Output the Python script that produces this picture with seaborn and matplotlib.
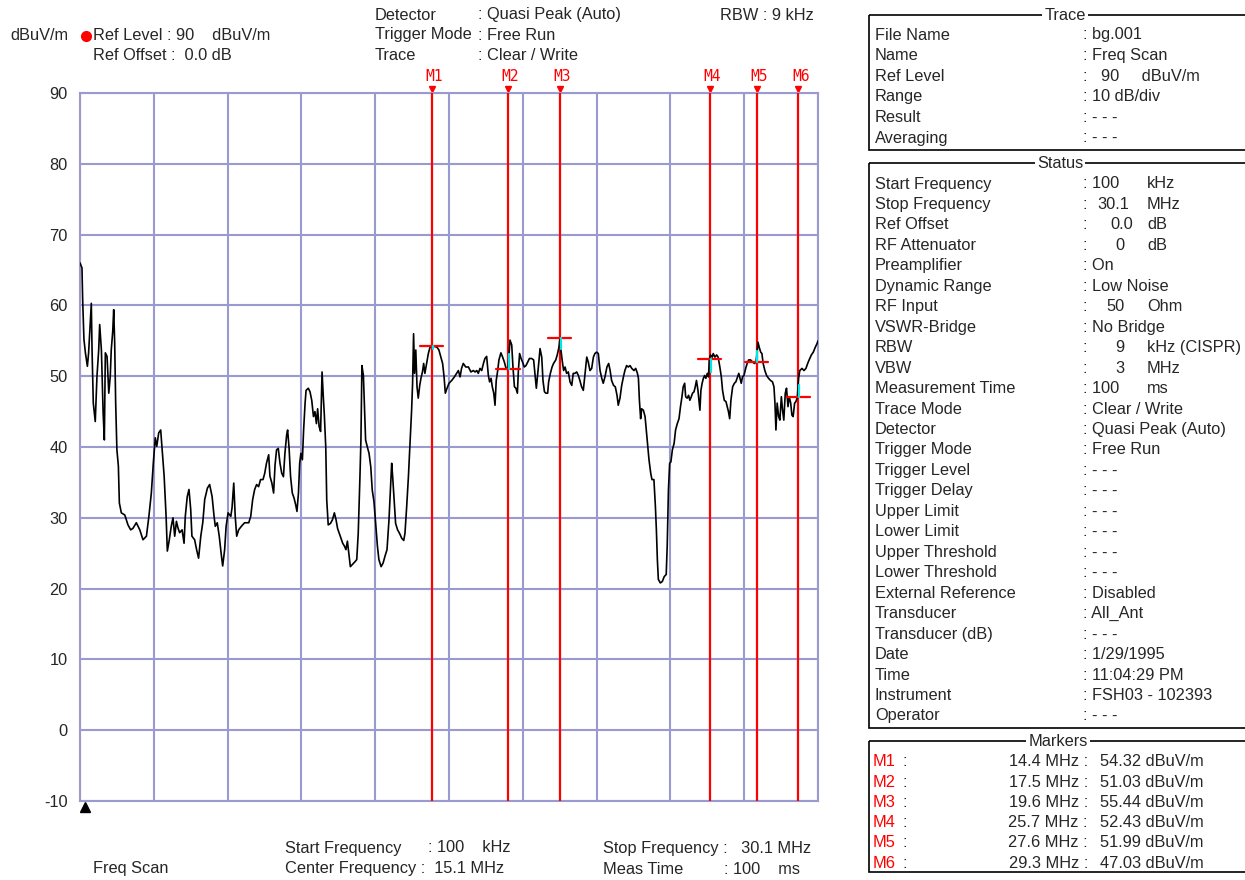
import matplotlib
matplotlib.use("Agg")
import matplotlib.pyplot as plt
from matplotlib.patches import Rectangle
import seaborn as sns
import numpy as np
import pandas as pd

# ---- data ----
trace_mhz = [
    0.10, 0.18, 0.21, 0.26, 0.32, 0.40, 0.45, 0.52, 0.56, 0.59, 0.64, 0.72, 0.79, 0.86, 0.90, 0.97,
    1.04, 1.09, 1.13, 1.20, 1.27, 1.33, 1.37, 1.43, 1.47, 1.51, 1.55, 1.60, 1.66, 1.70, 1.78, 1.92,
    2.05, 2.16, 2.25, 2.39, 2.53, 2.66, 2.80, 2.90, 3.00, 3.08, 3.16, 3.22, 3.30, 3.38, 3.43, 3.52,
    3.60, 3.65, 3.73, 3.81, 3.88, 3.95, 4.02, 4.08, 4.15, 4.25, 4.33, 4.38, 4.46, 4.53, 4.60, 4.65,
    4.76, 4.84, 4.92, 5.01, 5.09, 5.17, 5.28, 5.37, 5.47, 5.55, 5.60, 5.68, 5.76, 5.85, 5.90, 5.98,
    6.04, 6.12, 6.23, 6.28, 6.35, 6.41, 6.47, 6.55, 6.66, 6.79, 6.96, 7.04, 7.12, 7.20, 7.28, 7.36,
    7.44, 7.54, 7.61, 7.68, 7.77, 7.82, 7.90, 7.97, 8.03, 8.09, 8.16, 8.23, 8.30, 8.37, 8.43, 8.50,
    8.54, 8.60, 8.66, 8.73, 8.80, 8.87, 8.92, 8.98, 9.03, 9.08, 9.14, 9.19, 9.25, 9.29, 9.38, 9.45,
    9.52, 9.59, 9.65, 9.71, 9.76, 9.82, 9.88, 9.94, 9.99, 10.03, 10.09, 10.13, 10.19, 10.28, 10.36,
    10.44, 10.51, 10.57, 10.64, 10.71, 10.78, 10.85, 10.91, 10.97, 11.04, 11.09, 11.17, 11.28, 11.35,
    11.41, 11.48, 11.52, 11.56, 11.62, 11.66, 11.71, 11.78, 11.85, 11.92, 11.98, 12.05, 12.12, 12.19,
    12.25, 12.34, 12.42, 12.50, 12.58, 12.66, 12.72, 12.77, 12.81, 12.86, 12.93, 13.01, 13.09, 13.18,
    13.26, 13.31, 13.38, 13.45, 13.52, 13.58, 13.62, 13.66, 13.70, 13.75, 13.80, 13.85, 13.91, 13.96,
    14.02, 14.07, 14.12, 14.19, 14.26, 14.33, 14.40, 14.50, 14.61, 14.69, 14.77, 14.84, 14.90, 14.95,
    15.02, 15.10, 15.21, 15.32, 15.41, 15.48, 15.55, 15.61, 15.68, 15.78, 15.89, 15.99, 16.09, 16.16,
    16.23, 16.29, 16.36, 16.43, 16.50, 16.56, 16.63, 16.70, 16.75, 16.81, 16.86, 16.92, 16.97, 17.02,
    17.08, 17.13, 17.21, 17.28, 17.35, 17.42, 17.50, 17.54, 17.58, 17.65, 17.70, 17.76, 17.82, 17.88,
    17.92, 17.97, 18.03, 18.09, 18.16, 18.23, 18.30, 18.37, 18.46, 18.54, 18.61, 18.65, 18.70, 18.76,
    18.80, 18.87, 18.92, 18.98, 19.04, 19.11, 19.15, 19.22, 19.29, 19.35, 19.44, 19.50, 19.57, 19.61,
    19.65, 19.71, 19.76, 19.82, 19.88, 19.95, 20.02, 20.09, 20.15, 20.22, 20.29, 20.36, 20.42, 20.49,
    20.56, 20.63, 20.70, 20.76, 20.83, 20.90, 20.97, 21.03, 21.10, 21.17, 21.24, 21.31, 21.37, 21.44,
    21.52, 21.59, 21.65, 21.71, 21.79, 21.86, 21.93, 21.98, 22.05, 22.12, 22.19, 22.25, 22.32, 22.39,
    22.46, 22.53, 22.62, 22.69, 22.76, 22.80, 22.84, 22.89, 22.93, 23.00, 23.07, 23.12, 23.18, 23.23,
    23.30, 23.35, 23.43, 23.49, 23.53, 23.57, 23.61, 23.69, 23.77, 23.85, 23.93, 23.97, 24.02, 24.07,
    24.12, 24.18, 24.25, 24.31, 24.38, 24.45, 24.51, 24.57, 24.62, 24.68, 24.72, 24.78, 24.84, 24.89,
    24.95, 25.00, 25.06, 25.11, 25.16, 25.22, 25.26, 25.30, 25.34, 25.39, 25.44, 25.49, 25.54, 25.60,
    25.65, 25.68, 25.73, 25.80, 25.84, 25.91, 25.98, 26.04, 26.11, 26.17, 26.22, 26.29, 26.36, 26.41,
    26.46, 26.51, 26.56, 26.63, 26.70, 26.76, 26.83, 26.88, 26.93, 26.98, 27.03, 27.09, 27.16, 27.22,
    27.28, 27.36, 27.44, 27.52, 27.58, 27.62, 27.66, 27.71, 27.77, 27.82, 27.87, 27.94, 28.01, 28.09,
    28.17, 28.25, 28.31, 28.35, 28.39, 28.44, 28.50, 28.55, 28.61, 28.66, 28.71, 28.77, 28.82, 28.88,
    28.93, 28.99, 29.04, 29.09, 29.15, 29.20, 29.26, 29.31, 29.36, 29.45, 29.53, 29.61, 29.68, 29.74,
    29.83, 29.91, 29.99, 30.06, 30.10,
]
trace_dbuv = [
    66.0, 65.3, 60.6, 55.2, 53.3, 51.4, 53.3, 57.7, 60.3, 53.7, 46.2, 43.6, 50.0, 53.7, 57.3, 53.7,
    44.8, 41.0, 53.3, 52.8, 47.6, 50.0, 53.7, 56.3, 59.4, 54.7, 46.2, 39.6, 37.3, 32.1, 30.7, 30.4,
    29.0, 28.3, 28.5, 29.3, 28.3, 26.9, 27.4, 30.2, 33.5, 37.7, 41.3, 40.1, 42.0, 42.4, 40.1, 35.9,
    30.2, 25.3, 26.9, 28.8, 30.0, 27.4, 29.5, 28.6, 27.9, 28.3, 26.4, 30.2, 33.0, 34.0, 31.2, 27.4,
    26.9, 25.5, 24.3, 27.4, 29.3, 32.6, 34.2, 34.7, 33.0, 30.2, 28.8, 29.3, 27.4, 24.6, 23.2, 25.5,
    28.8, 30.7, 30.2, 31.4, 34.9, 30.2, 27.4, 28.3, 28.8, 29.3, 29.3, 30.2, 32.6, 34.0, 34.7, 34.4,
    35.4, 35.4, 36.3, 37.7, 38.9, 35.9, 34.9, 33.5, 37.5, 39.6, 39.8, 37.7, 36.3, 35.8, 39.1, 41.7,
    42.4, 39.8, 35.8, 33.5, 32.8, 31.8, 30.9, 33.5, 37.7, 39.1, 38.2, 42.4, 46.2, 48.0, 48.3, 47.8,
    46.6, 44.3, 45.0, 43.3, 45.4, 42.9, 42.2, 50.6, 47.1, 44.7, 40.0, 32.5, 29.0, 29.2, 29.7,
    30.7, 29.7, 28.5, 27.8, 27.1, 26.4, 26.0, 25.5, 26.7, 24.6, 23.1, 23.4, 23.8, 24.1,
    27.8, 35.8, 41.0, 51.5, 50.1, 46.2, 41.0, 40.0, 39.1, 37.2, 33.9, 32.3, 29.2, 26.0,
    24.1, 23.1, 23.6, 24.6, 25.5, 29.7, 33.9, 37.7, 35.8, 33.0, 29.2, 28.3, 27.8, 27.1,
    26.8, 27.8, 31.6, 35.8, 41.0, 45.2, 49.0, 56.0, 50.4, 53.7, 48.5, 46.9, 48.7, 49.7,
    50.6, 51.8, 50.4, 51.8, 53.2, 54.1, 54.3, 54.2, 54.1, 53.7, 52.7, 51.8, 49.9, 47.6,
    48.3, 49.0, 49.4, 49.9, 50.4, 50.8, 49.9, 51.1, 51.8, 51.3, 51.3, 50.6, 50.8, 50.6,
    50.8, 50.4, 51.1, 50.8, 51.8, 52.5, 52.8, 50.1, 49.2, 49.7, 48.5, 47.6, 45.9, 49.4,
    50.8, 52.3, 53.3, 52.7, 52.0, 51.1, 51.0, 53.0, 55.1, 54.4, 51.3, 48.5, 48.3, 47.6,
    50.8, 53.2, 52.5, 52.0, 51.3, 51.5, 52.0, 52.5, 52.5, 52.3, 49.7, 48.3, 50.1, 52.3,
    53.9, 52.7, 49.4, 47.8, 47.6, 47.6, 49.2, 50.4, 51.3, 51.8, 52.3, 53.0, 54.1, 55.4,
    53.7, 52.0, 50.8, 51.3, 50.4, 50.6, 49.2, 48.7, 50.4, 50.4, 50.6, 50.1, 49.4, 48.5,
    48.0, 50.4, 52.7, 52.0, 50.8, 51.1, 52.7, 53.2, 53.4, 53.2, 50.8, 49.7, 49.0, 49.9,
    51.3, 51.8, 50.8, 49.4, 48.7, 48.5, 47.3, 45.9, 46.9, 48.7, 49.9, 50.8, 51.5, 51.3,
    51.5, 51.1, 50.8, 51.1, 50.4, 49.7, 46.6, 44.0, 45.4, 45.2, 44.3, 42.4, 40.0, 38.2,
    36.3, 35.4, 35.4, 31.6, 28.3, 24.1, 21.3, 20.8, 21.0, 21.7, 22.0, 26.0, 33.9, 37.7,
    37.9, 39.6, 40.5, 42.4, 43.3, 44.0, 45.7, 47.1, 48.5, 49.0, 47.1, 46.9, 47.3, 46.6,
    47.1, 47.6, 47.8, 48.5, 49.4, 48.0, 46.6, 45.2, 48.0, 49.0, 49.7, 50.1, 49.7, 50.4,
    49.9, 52.4, 53.0, 52.7, 53.2, 52.7, 53.0, 52.7, 51.3, 49.9, 48.0, 46.6, 46.4, 45.7,
    45.0, 44.0, 46.6, 48.5, 49.0, 49.2, 49.9, 50.4, 49.7, 49.0, 49.9, 50.1, 51.1, 51.8,
    52.3, 52.3, 52.0, 51.8, 52.0, 53.2, 54.8, 54.1, 53.4, 53.2, 51.8, 50.8, 50.1, 49.7,
    49.4, 49.2, 48.5, 46.2, 42.4, 46.2, 44.3, 43.8, 47.1, 45.2, 43.8, 47.6, 48.3, 45.7,
    47.1, 46.2, 44.5, 44.3, 46.2, 46.4, 47.0, 49.7, 50.8, 51.1, 50.8, 51.1, 51.8, 52.3,
    53.0, 53.4, 54.1, 54.6, 55.0,
]

marker_names = ["M1", "M2", "M3", "M4", "M5", "M6"]
marker_mhz = [14.4, 17.5, 19.6, 25.7, 27.6, 29.3]
marker_dbuv = [54.32, 51.03, 55.44, 52.43, 51.99, 47.03]
marker_cyan_end = [53.8, 53.2, 53.8, 50.6, 53.6, 48.8]

y_ticks = [90, 80, 70, 60, 50, 40, 30, 20, 10, 0, -10]

trace_rows = [
    ("File Name", ": bg.001"),
    ("Name", ": Freq Scan"),
    ("Ref Level", ":   90     dBuV/m"),
    ("Range", ": 10 dB/div"),
    ("Result", ": - - -"),
    ("Averaging", ": - - -"),
]
# (label, colon text, number, unit)
status_rows = [
    ("Start Frequency", ": 100", "", "kHz"),
    ("Stop Frequency", ":", "30.1", "MHz"),
    ("Ref Offset", ":", "0.0", "dB"),
    ("RF Attenuator", ":", "0", "dB"),
    ("Preamplifier", ": On", "", ""),
    ("Dynamic Range", ": Low Noise", "", ""),
    ("RF Input", ":", "50", "Ohm"),
    ("VSWR-Bridge", ": No Bridge", "", ""),
    ("RBW", ":", "9", "kHz (CISPR)"),
    ("VBW", ":", "3", "MHz"),
    ("Measurement Time", ": 100", "", "ms"),
    ("Trace Mode", ": Clear / Write", "", ""),
    ("Detector", ": Quasi Peak (Auto)", "", ""),
    ("Trigger Mode", ": Free Run", "", ""),
    ("Trigger Level", ": - - -", "", ""),
    ("Trigger Delay", ": - - -", "", ""),
    ("Upper Limit", ": - - -", "", ""),
    ("Lower Limit", ": - - -", "", ""),
    ("Upper Threshold", ": - - -", "", ""),
    ("Lower Threshold", ": - - -", "", ""),
    ("External Reference", ": Disabled", "", ""),
    ("Transducer", ": All_Ant", "", ""),
    ("Transducer (dB)", ": - - -", "", ""),
    ("Date", ": 1/29/1995", "", ""),
    ("Time", ": 11:04:29 PM", "", ""),
    ("Instrument", ": FSH03 - 102393", "", ""),
    ("Operator", ": - - -", "", ""),
]

# ---- style ----
sns.set_style("white")
plt.rcParams["font.family"] = ["Liberation Sans", "DejaVu Sans"]
plt.rcParams["axes.unicode_minus"] = False
FS = 11.8
GRID = "#9a9ad0"
RED = "#ff0000"

fig = plt.figure(figsize=(12.45, 8.8), dpi=100)
ax = fig.add_axes([80 / 1245, 1 - 801 / 880, 738 / 1245, 708 / 880])

df = pd.DataFrame({"MHz": trace_mhz, "dBuV/m": trace_dbuv})
sns.lineplot(data=df, x="MHz", y="dBuV/m", ax=ax, color="black", lw=1.2,
             estimator=None, sort=False, zorder=5)

ax.set_xlim(0.1, 30.1)
ax.set_ylim(-10, 90)
ax.set_xticks([0.1 + 3 * i for i in range(11)])
ax.set_yticks(y_ticks)
ax.set_xticklabels([])
ax.set_xlabel("")
ax.set_ylabel("")
ax.tick_params(axis="both", length=0)
ax.tick_params(axis="y", pad=9, labelsize=FS)
ax.grid(True, color=GRID, lw=1.5)
for s in ax.spines.values():
    s.set_color(GRID)
    s.set_linewidth(1.5)

# markers
xform = ax.get_xaxis_transform()
for name, f, lev, cy in zip(marker_names, marker_mhz, marker_dbuv, marker_cyan_end):
    ax.axvline(f, color=RED, lw=1.6, zorder=4)
    ax.plot([f - 0.47, f + 0.47], [lev, lev], color=RED, lw=1.6, zorder=6)
    ax.plot([f + 0.04, f + 0.04], [lev, cy], color="#00e5e5", lw=1.6, zorder=6)
    ax.plot(f, 1.006, marker="v", color=RED, ms=5, transform=xform, clip_on=False)
    ax.text(f + 0.1, 1.013, name, color=RED, fontsize=10.5, family="DejaVu Sans Mono",
            ha="center", va="bottom", transform=xform)
# small start-of-sweep triangle under the bottom-left corner
ax.plot(0.007, -0.009, marker="^", color="black", ms=7, transform=ax.transAxes, clip_on=False)

# ---- overlay in pixel coordinates for all the text ----
ov = fig.add_axes([0, 0, 1, 1], zorder=10)
ov.set_xlim(0, 1245)
ov.set_ylim(880, 0)
ov.axis("off")
ov.patch.set_alpha(0)


def txt(x, y, s, **kw):
    kw.setdefault("fontsize", FS)
    ov.text(x, y, s, va="center", ha=kw.pop("ha", "left"), **kw)


# header
txt(10, 36, "dBuV/m")
ov.plot(86, 36, "o", color=RED, ms=7)
txt(93, 36, "Ref Level : 90    dBuV/m")
txt(93, 56, "Ref Offset :  0.0 dB")
txt(375, 15, "Detector")
txt(375, 35, "Trigger Mode")
txt(375, 56, "Trace")
txt(478, 15, ": Quasi Peak (Auto)")
txt(478, 35, ": Free Run")
txt(478, 56, ": Clear / Write")
txt(720, 15, "RBW : 9 kHz")

# footer
txt(93, 869, "Freq Scan")
txt(285, 848, "Start Frequency")
txt(428, 848, ": 100    kHz")
txt(285, 869, "Center Frequency :  15.1 MHz")
txt(603, 848, "Stop Frequency :   30.1 MHz")
txt(603, 869, "Meas Time")
txt(724, 869, ": 100    ms")


# right panel boxes
def panel(y0, y1, title, tx):
    ov.add_patch(Rectangle((869, y0), 400, y1 - y0, fill=False, ec="black", lw=1.2,
                           clip_on=True))
    txt(tx, y0, title, ha="center", bbox=dict(fc="white", ec="none", pad=1.5))


panel(15, 150, "Trace", 1065)
panel(163, 728, "Status", 1060)
panel(741, 872, "Markers", 1058)

for i, (lab, val) in enumerate(trace_rows):
    y = 35 + i * 20.6
    txt(875, y, lab)
    txt(1083, y, val)

num_x = {"30.1": 1097, "0.0": 1110, "0": 1115, "50": 1106, "9": 1115, "3": 1115}
for i, (lab, colon, num, unit) in enumerate(status_rows):
    y = 184 + i * 20.46
    txt(875, y, lab)
    txt(1083, y, colon)
    if num:
        txt(num_x[num], y, num)
    if unit:
        txt(1147, y, unit)

for i, (name, f, lev) in enumerate(zip(marker_names, marker_mhz, marker_dbuv)):
    y = 762 + i * 20.2
    txt(873, y, name, color=RED)
    txt(902, y, ":")
    txt(1088, y, f"{f:.1f} MHz :", ha="right")
    txt(1100, y, f"{lev:.2f} dBuV/m")

fig.savefig("out.png", dpi=100)
